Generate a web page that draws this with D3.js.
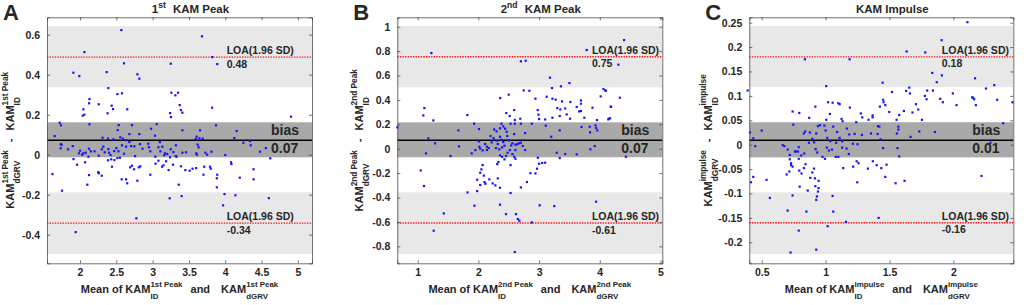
<!DOCTYPE html>
<html><head><meta charset="utf-8">
<script src="https://cdn.jsdelivr.net/npm/d3@7"></script>
<style>
body{margin:0;background:#fff}
svg{display:block}
text{font-family:"Liberation Sans",Arial,Helvetica,sans-serif;font-weight:bold;fill:#262626}
</style>
</head><body>
<svg id="chart" width="1024" height="305"></svg>
<script>
// ---------------- data ----------------
const ptsA=[[2.569,0.623],[3.68,0.592],[2.06,0.513],[2.606,0.457],[3.249,0.455],[3.89,0.453],[3.82,0.488],[1.908,0.41],[1.99,0.393],[2.367,0.413],[2.79,0.402],[2.817,0.38],[2.39,0.333],[2.514,0.303],[2.578,0.307],[3.258,0.31],[3.313,0.297],[3.35,0.31],[2.13,0.278],[2.124,0.257],[2.257,0.252],[2.436,0.245],[2.455,0.228],[2.046,0.227],[2.037,0.195],[2.06,0.2],[2.38,0.207],[2.65,0.227],[3.373,0.248],[3.39,0.223],[3.41,0.21],[3.24,0.208],[3.253,0.188],[3.82,0.235],[2.13,0.152],[1.72,0.16],[1.738,0.147],[2.533,0.148],[2.716,0.148],[3.056,0.153],[2.978,0.13],[3.41,0.122],[3.653,0.122],[3.873,0.147],[4.158,0.118],[1.651,0.093],[2.519,0.123],[2.556,0.087],[2.31,0.085],[2.386,0.08],[2.68,0.103],[2.817,0.103],[2.46,0.077],[2.59,0.08],[2.634,0.073],[2.94,0.055],[3.033,0.095],[3.1,0.063],[3.607,0.09],[3.644,0.082],[3.69,0.08],[3.593,0.078],[4.126,0.083],[4.25,0.06],[4.342,0.068],[4.35,0.047],[4.48,0.015],[4.56,0.033],[4.62,-0.018],[1.734,0.052],[1.747,0.05],[1.835,0.027],[1.9,0.043],[1.734,0.032],[1.986,0.007],[2.0,0.02],[2.03,0],[2.046,0.007],[2.078,0.01],[2.124,0.03],[2.15,0.017],[2.2,0.017],[2.115,-0.01],[2.257,-0.005],[2.3,0.027],[2.32,0.04],[2.34,0.012],[2.39,0.028],[2.4,0.01],[2.42,-0.002],[2.47,0.018],[2.5,0.033],[2.53,0.017],[2.55,-0.015],[2.578,0.047],[2.606,0.005],[2.634,0.04],[2.68,0.063],[2.703,0.043],[2.758,-0.007],[2.826,0.053],[2.86,0.03],[2.748,0.042],[2.95,0.037],[2.968,0.017],[3.037,-0.01],[3.08,0.037],[3.107,0.017],[3.134,0.04],[3.16,-0.003],[3.17,0.007],[3.2,0.003],[3.24,-0.013],[3.249,0.027],[3.286,0.013],[3.318,-0.007],[3.32,0.047],[3.33,-0.01],[3.41,0.01],[3.46,0.012],[3.6,0.007],[3.61,0],[3.62,0.05],[3.634,0.037],[3.726,0.01],[3.75,0],[3.81,0.015],[4.0,-0.002],[1.62,-0.097],[1.91,-0.022],[1.959,-0.05],[2.07,-0.038],[1.752,-0.18],[2.124,-0.102],[2.1,-0.15],[2.25,-0.087],[2.26,-0.093],[2.3,-0.105],[2.386,-0.028],[2.43,-0.023],[2.44,-0.06],[2.474,-0.027],[2.515,-0.017],[2.574,-0.123],[2.634,-0.123],[2.65,-0.143],[2.69,-0.063],[2.716,-0.055],[2.745,-0.073],[2.79,-0.13],[2.81,-0.063],[2.83,-0.058],[2.776,-0.318],[2.968,-0.1],[3.04,-0.045],[3.08,-0.03],[3.13,-0.06],[3.15,-0.053],[3.185,-0.033],[3.22,-0.077],[3.235,-0.218],[3.28,-0.05],[3.36,-0.15],[3.39,-0.058],[3.4,-0.207],[3.45,-0.077],[3.51,-0.08],[3.55,-0.07],[3.6,-0.067],[3.7,-0.1],[3.71,-0.06],[3.79,-0.06],[3.8,-0.07],[3.89,-0.1],[3.884,-0.118],[3.884,-0.163],[3.99,-0.197],[3.97,-0.253],[4.08,-0.038],[4.085,-0.047],[4.14,-0.203],[4.2,-0.115],[4.39,-0.073],[4.39,-0.123],[4.6,-0.217],[1.94,-0.387],[4.906,0.19]];

const ptsB=[[1.225,0.784],[3.784,0.809],[4.4,0.89],[4.306,0.689],[2.70,0.716],[2.78,0.721],[3.18,0.582],[2.746,0.478],[2.84,0.475],[3.213,0.497],[3.36,0.511],[3.5,0.538],[4.06,0.489],[4.09,0.478],[4.015,0.429],[4.33,0.418],[2.94,0.41],[3.125,0.426],[3.22,0.41],[3.273,0.402],[3.378,0.388],[3.515,0.383],[2.5,0.443],[2.36,0.415],[3.69,0.396],[3.69,0.369],[3.88,0.336],[4.185,0.344],[2.977,0.317],[3.3,0.333],[3.35,0.322],[3.43,0.33],[3.62,0.342],[3.66,0.306],[3.69,0.309],[1.11,0.333],[1.093,0.273],[1.818,0.276],[1.258,0.232],[2.46,0.292],[2.516,0.268],[2.59,0.317],[2.69,0.246],[2.6,0.235],[2.99,0.279],[3.0,0.243],[3.1,0.24],[3.22,0.254],[3.34,0.268],[3.455,0.281],[3.51,0.246],[3.745,0.254],[3.954,0.235],[4.14,0.24],[4.17,0.249],[1.93,0.205],[2.01,0.161],[1.67,0.15],[2.38,0.205],[2.41,0.183],[2.26,0.158],[2.3,0.142],[2.356,0.167],[2.44,0.164],[2.466,0.139],[2.53,0.205],[2.6,0.205],[2.7,0.205],[2.77,0.128],[2.88,0.205],[3.11,0.189],[3.2,0.098],[3.34,0.15],[3.7,0.178],[3.834,0.18],[3.93,0.191],[3.84,0.134],[3.96,0.15],[3.916,0.022],[3.845,-0.005],[4.43,-0.066],[0.665,0.175],[1.176,0.085],[1.137,-0.038],[1.286,0.044],[1.54,-0.06],[1.68,0.019],[2.01,0.06],[1.89,-0.038],[1.95,-0.011],[2.016,0.016],[2.03,0],[2.07,-0.014],[2.11,0.038],[2.14,0.016],[2.17,0.005],[2.14,-0.011],[2.2,0.104],[2.22,0.052],[2.25,0.087],[2.3,0.066],[2.29,0.005],[2.32,0.038],[2.356,0.098],[2.38,0.074],[2.41,0.055],[2.477,0.104],[2.5,0.068],[2.54,0.027],[2.56,0.044],[2.59,0.12],[2.61,0.033],[2.64,0.036],[2.67,0.044],[2.7,0.049],[2.73,0.022],[2.77,-0.011],[2.43,0.025],[2.39,0.011],[2.345,-0.005],[2.356,-0.055],[2.39,-0.066],[2.33,-0.109],[2.31,-0.126],[2.455,-0.06],[2.43,-0.087],[2.48,-0.033],[2.52,-0.011],[2.56,-0.044],[2.59,-0.066],[2.61,-0.082],[2.53,-0.134],[2.61,-0.011],[2.07,-0.134],[2.05,-0.169],[2.03,-0.197],[2.09,-0.22],[1.98,-0.254],[2.1,-0.273],[2.18,-0.251],[2.115,-0.287],[2.235,-0.284],[2.28,-0.3],[2.356,-0.32],[2.03,-0.298],[1.98,-0.347],[1.82,-0.358],[2.32,-0.243],[2.53,-0.363],[2.7,-0.317],[2.8,-0.273],[2.856,-0.2],[2.94,-0.202],[2.966,-0.164],[3.0,-0.123],[3.05,-0.117],[3.1,-0.115],[2.98,-0.074],[3.29,-0.033],[3.34,-0.077],[3.43,-0.044],[3.62,-0.046],[1.05,-0.178],[1.104,-0.306],[1.43,-0.53],[1.264,-0.672],[1.934,-0.467],[2.356,-0.459],[2.455,-0.536],[2.62,-0.536],[2.65,-0.576],[2.675,-0.59],[2.88,-0.604],[3.01,-0.464],[3.25,-0.47],[3.94,-0.434],[2.6,-0.847],[4.1,0.475],[4.18,0.344],[4.15,0.246],[3.94,0.17]];

const ptsC=[[2.11,0.251],[1.908,0.214],[1.634,0.191],[1.78,0.189],[0.838,0.175],[1.188,0.175],[1.835,0.147],[1.91,0.142],[1.87,0.128],[2.17,0.136],[1.446,0.127],[1.655,0.117],[2.255,0.115],[1.52,0.108],[1.63,0.11],[1.66,0.105],[1.005,0.12],[0.39,0.111],[1.795,0.111],[1.84,0.111],[1.897,0.094],[1.918,0.087],[1.996,0.105],[2.025,0.081],[2.155,0.096],[2.163,0.093],[2.176,0.081],[1.777,0.1],[1.79,0.093],[1.707,0.083],[1.725,0.072],[1.68,0.066],[1.576,0.061],[1.613,0.069],[1.556,0.051],[1.754,0.051],[1.454,0.087],[1.467,0.081],[1.425,0.078],[1.498,0.067],[1.451,0.092],[1.02,0.087],[1.055,0.086],[1.1,0.085],[1.11,0.083],[1.19,0.076],[0.92,0.078],[0.742,0.068],[0.794,0.065],[0.872,0.055],[1.034,0.063],[1.005,0.051],[1.276,0.064],[1.287,0.056],[1.368,0.06],[1.368,0.056],[1.336,0.051],[1.125,0.053],[1.133,0.048],[1.24,0.046],[0.747,0.041],[0.408,0.025],[0.5,0.029],[0.434,0.013],[0.45,-0.003],[0.416,-0.077],[0.434,-0.066],[0.538,-0.072],[0.564,-0.109],[0.664,-0.001],[0.677,-0.003],[0.703,-0.01],[0.72,-0.021],[0.72,-0.03],[0.73,-0.038],[0.73,-0.042],[0.742,-0.045],[0.695,-0.061],[0.716,-0.055],[0.76,-0.014],[0.768,-0.014],[0.784,-0.014],[0.79,-0.005],[0.81,-0.022],[0.79,-0.029],[0.794,-0.053],[0.812,-0.059],[0.83,-0.048],[0.797,-0.086],[0.833,-0.018],[0.843,-0.04],[0.742,-0.104],[0.87,0.004],[0.896,-0.057],[0.88,-0.068],[0.86,-0.094],[0.83,0.023],[0.84,0.027],[0.877,0.025],[0.896,0.012],[0.91,0.005],[0.927,0.023],[0.94,0.038],[0.956,0.04],[0.99,0.039],[1.0,0.029],[1.013,0.014],[1.01,-0.006],[0.922,-0.009],[0.935,-0.016],[0.976,-0.025],[0.995,-0.029],[0.909,-0.049],[0.917,-0.069],[0.92,-0.085],[0.945,-0.074],[0.945,-0.089],[0.94,-0.096],[0.932,-0.106],[0.927,-0.113],[1.055,-0.105],[1.06,-0.137],[1.037,0.007],[1.06,0.037],[1.09,0.026],[1.083,0.004],[1.11,0.014],[1.13,0.007],[1.13,-0.006],[1.026,-0.012],[1.05,-0.01],[1.08,-0.025],[1.1,-0.025],[1.167,0.033],[1.185,0.021],[1.214,0.002],[1.25,0.001],[1.284,0.02],[1.227,0.022],[1.164,-0.008],[1.182,-0.019],[1.138,-0.048],[1.216,-0.045],[1.243,-0.034],[1.258,-0.038],[1.248,-0.077],[1.331,-0.049],[1.355,0.023],[1.41,0.038],[1.42,0.037],[1.43,0.011],[1.407,0.022],[1.37,-0.034],[1.4,-0.042],[1.436,-0.048],[1.467,-0.066],[1.477,-0.041],[1.45,-0.007],[1.558,0.023],[1.57,0.037],[1.57,0.031],[1.563,-0.007],[1.576,-0.024],[1.548,-0.079],[1.618,-0.074],[1.665,0.016],[1.733,0.027],[1.855,0.026],[2.22,-0.064],[1.415,-0.15],[1.16,-0.158],[1.016,-0.167],[0.703,-0.135],[0.85,-0.137],[0.79,-0.176],[0.726,-0.221],[0.927,-0.215],[2.32,0.122],[2.343,0.092],[2.463,0.087],[2.39,0.044],[2.29,0.004],[2.147,0.097]];

const biasVals=[0.072,0.069,0.009];
const loaUpper=[0.488,0.754,0.18];
const loaLower=[-0.342,-0.609,-0.16];
const ciUpper=[[0.337,0.643],[0.503,1.006],[0.118,0.243]];
const ciBias=[[-0.013,0.162],[-0.07,0.216],[-0.026,0.046]];
const ciLower=[[-0.497,-0.188],[-0.863,-0.357],[-0.224,-0.0975]];
const biasLabels=["0.07","0.07","0.01"];
const loaUpperLabels=["0.48","0.75","0.18"];
const loaLowerLabels=["-0.34","-0.61","-0.16"];
const loaText="LOA(1.96 SD)";
const xTicks=[[2,2.5,3,3.5,4,4.5,5],[1,2,3,4,5],[0.5,1,1.5,2]];
const yTicks=[[-0.4,-0.2,0,0.2,0.4,0.6],[-0.8,-0.6,-0.4,-0.2,0,0.2,0.4,0.6,0.8,1],[-0.2,-0.15,-0.1,-0.05,0,0.05,0.1,0.15,0.2,0.25]];
const xDomains=[[1.545,5.195],[0.664,5.03],[0.403,2.469]];
const yDomains=[[-0.543,0.687],[-0.939,1.077],[-0.243,0.261]];
const letters=["A","B","C"];
const titleNum=["1","2",null];
const titleSup=["st","nd",null];
const titleRest=["KAM Peak","KAM Peak","KAM Impulse"];
const measureSup=["1st Peak","2nd Peak","impulse"];
const loaLabelX=[4.02,3.87,1.91];
const allPts=[ptsA,ptsB,ptsC];

// ---------------- layout ----------------
const plotLeft=[47,397.3,749.3], plotRight=[312,662.3,1013.3];
const plotTop=17.3, plotBottom=263.3;
const yLabelOff=[33,34,37];

const svg=d3.select("#chart");

function rich(g, segs, fs, supShift, subShift, ratio){
  let x=0; const sm=fs*ratio;
  segs.forEach(s=>{
    if(s.gap!==undefined){x+=s.gap;return;}
    if(s.t!==undefined){
      const t=g.append("text").attr("x",x).attr("y",0).style("font-size",fs+"px").text(s.t);
      x+=t.node().getComputedTextLength();return;
    }
    let w=0;
    if(s.sup){const t=g.append("text").attr("x",x).attr("y",supShift).style("font-size",sm+"px").text(s.sup);w=Math.max(w,t.node().getComputedTextLength());}
    if(s.sub){const t=g.append("text").attr("x",x).attr("y",subShift).style("font-size",sm+"px").text(s.sub);w=Math.max(w,t.node().getComputedTextLength());}
    x+=w;
  });
  return x;
}
function centered(parent, transform, segs, fs, supShift, subShift, ratio){
  const outer=parent.append("g").attr("transform",transform);
  const inner=outer.append("g");
  const w=rich(inner,segs,fs,supShift,subShift,ratio);
  inner.attr("transform",`translate(${-w/2},0)`);
}
const fmt=v=>String(+v.toFixed(2));

for(let i=0;i<3;i++){
  const L=plotLeft[i], R=plotRight[i];
  const x=d3.scaleLinear().domain(xDomains[i]).range([L,R]);
  const y=d3.scaleLinear().domain(yDomains[i]).range([plotBottom,plotTop]);
  const g=svg.append("g");

  // CI bands
  [ciUpper[i],ciLower[i]].forEach(b=>{
    g.append("rect").attr("x",L).attr("width",R-L).attr("y",y(b[1])).attr("height",y(b[0])-y(b[1])).attr("fill","#e8e8e8");
  });
  g.append("rect").attr("x",L).attr("width",R-L).attr("y",y(ciBias[i][1])).attr("height",y(ciBias[i][0])-y(ciBias[i][1])).attr("fill","#a9a9a9");

  // LOA lines
  [loaUpper[i],loaLower[i]].forEach(v=>{
    g.append("line").attr("x1",L).attr("x2",R).attr("y1",y(v)).attr("y2",y(v))
      .attr("stroke","#ff1010").attr("stroke-width",1.4).attr("stroke-dasharray","1.4,1.2");
  });
  // bias line
  g.append("line").attr("x1",L).attr("x2",R).attr("y1",y(biasVals[i])).attr("y2",y(biasVals[i]))
    .attr("stroke","#000").attr("stroke-width",1.6);

  // points
  g.append("g").selectAll("rect").data(allPts[i]).join("rect")
    .attr("x",d=>x(d[0])-1.1).attr("y",d=>y(d[1])-1.1).attr("width",2.2).attr("height",2.2).attr("fill","#1414ff");

  // axes (MATLAB style box, inward ticks)
  const ax=g.append("g");
  const bottom=d3.axisBottom(x).tickValues(xTicks[i]).tickSize(-3).tickPadding(5.5).tickFormat(fmt);
  const top=d3.axisTop(x).tickValues(xTicks[i]).tickSize(-3).tickFormat("");
  const left=d3.axisLeft(y).tickValues(yTicks[i]).tickSize(-3).tickPadding(7).tickFormat(fmt);
  const right=d3.axisRight(y).tickValues(yTicks[i]).tickSize(-3).tickFormat("");
  [[bottom,`translate(0,${plotBottom})`],[top,`translate(0,${plotTop})`],[left,`translate(${L},0)`],[right,`translate(${R},0)`]].forEach(([a,t])=>{
    const s=ax.append("g").attr("transform",t).call(a);
    s.select(".domain").attr("stroke","#4d4d4d").attr("stroke-width",0.8);
    s.selectAll(".tick line").attr("stroke","#4d4d4d").attr("stroke-width",0.8);
    s.selectAll(".tick text").style("font-size","10.5px").style("font-family",null).attr("fill","#262626");
  });

  // annotations
  const tx=x(loaLabelX[i]);
  [[loaUpper[i],loaUpperLabels[i]],[loaLower[i],loaLowerLabels[i]]].forEach(([v,lab])=>{
    g.append("text").attr("x",tx).attr("y",y(v)-3).style("font-size","10.5px").text(loaText);
    g.append("text").attr("x",tx).attr("y",y(v)+10.5).style("font-size","10.5px").text(lab);
  });
  const bx=R-41;
  g.append("text").attr("x",bx).attr("y",y(biasVals[i])-5).style("font-size","14px").attr("fill","#1a1a1a").text("bias");
  g.append("text").attr("x",bx).attr("y",y(biasVals[i])+13).style("font-size","14px").attr("fill","#1a1a1a").text(biasLabels[i]);

  // panel letter
  svg.append("text").attr("x",L-44).attr("y",19.5).style("font-size","22px").attr("fill","#000").text(letters[i]);

  // title
  const tsegs = titleNum[i] ? [{t:titleNum[i]},{sup:titleSup[i]},{gap:7},{t:titleRest[i]}] : [{t:titleRest[i]}];
  centered(svg,`translate(${(L+R)/2+11},13)`,tsegs,11.5,-5,0,0.75);

  // x label
  const m=measureSup[i];
  centered(svg,`translate(${(L+R)/2},292.5)`,
    [{t:"Mean of KAM"},{sub:"ID",sup:m},{gap:8},{t:"and"},{gap:11},{t:"KAM"},{sub:"dGRV",sup:m}],
    11,-6,6,0.72);
  // y label
  centered(svg,`translate(${L-yLabelOff[i]},${(plotTop+plotBottom)/2}) rotate(-90)`,
    [{t:"KAM"},{sub:"dGRV",sup:m},{gap:8},{t:"-"},{gap:8},{t:"KAM"},{sub:"ID",sup:m}],
    11,-6,6,0.75);
}
</script>
</body></html>
